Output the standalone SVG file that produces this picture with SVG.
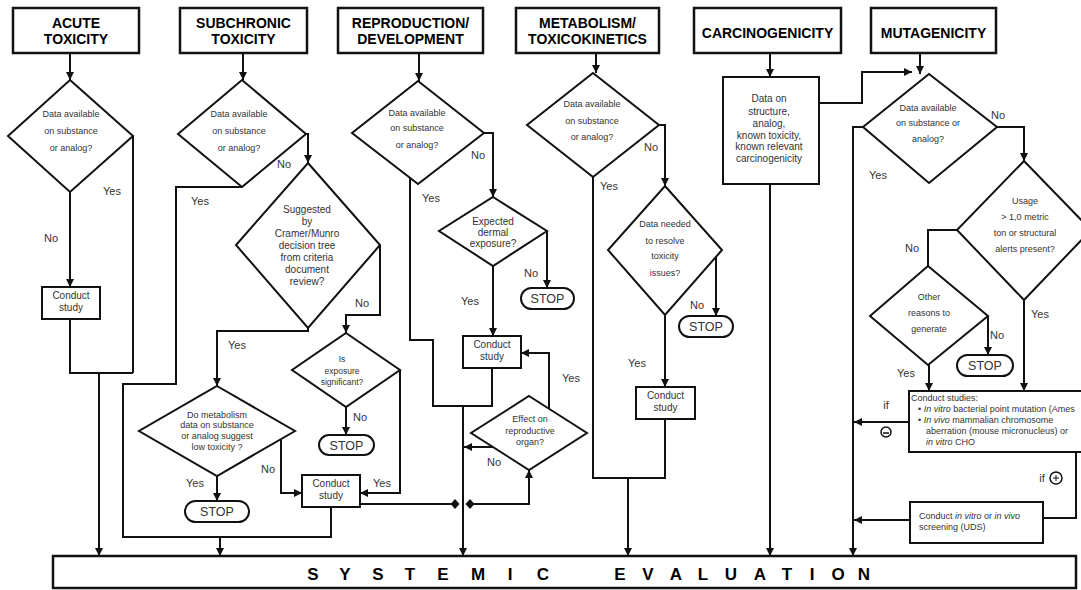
<svg xmlns="http://www.w3.org/2000/svg" width="1081" height="590" viewBox="0 0 1081 590">
  <defs>
    <marker id="arrow" viewBox="0 0 10 10" refX="10" refY="5" markerWidth="8" markerHeight="8" markerUnits="userSpaceOnUse" orient="auto">
      <path d="M0,0 L10,5 L0,10 z" fill="#111"/>
    </marker>
  </defs>
  <style>
    .hdr { fill: #fff; stroke: #111; stroke-width: 2.5; }
    .hdr-t { font-family: "Liberation Sans", Arial, sans-serif; font-weight: bold; font-size: 14px; fill: #000; text-anchor: middle; }
    .box { fill: #fff; stroke: #111; stroke-width: 2; }
    .dia { fill: #fff; stroke: #111; stroke-width: 2; }
    .stop { fill: #fff; stroke: #111; stroke-width: 2; }
    .t9 { font-family: "Liberation Sans", Arial, sans-serif; font-size: 9px; fill: #333; text-anchor: middle; }
    .t10 { font-family: "Liberation Sans", Arial, sans-serif; font-size: 10px; fill: #333; text-anchor: middle; }
    .tl { font-family: "Liberation Sans", Arial, sans-serif; font-size: 9px; fill: #333; }
    .stop-t { font-family: "Liberation Sans", Arial, sans-serif; font-size: 12.5px; fill: #333; text-anchor: middle; }
    .lbl { font-family: "Liberation Sans", Arial, sans-serif; font-size: 11px; fill: #333; text-anchor: middle; }
    .wire { fill: none; stroke: #111; stroke-width: 2; }
    .arr { marker-end: url(#arrow); }
    .sys-t { font-family: "Liberation Sans", Arial, sans-serif; font-weight: bold; font-size: 17px; fill: #000; text-anchor: middle; }
  </style>

  <rect width="1081" height="590" fill="#fff"/>

  <!-- connectors -->
  <g id="connectors">
    <!-- acute toxicity -->
    <path class="wire arr" d="M70,53 V80"/>
    <path class="wire arr" d="M70,192 V287"/>
    <path class="wire" d="M133,136 V373"/>
    <path class="wire" d="M70,319 V373 H133"/>
    <path class="wire arr" d="M99,373 V556"/>

    <!-- subchronic toxicity -->
    <path class="wire arr" d="M243,53 V80"/>
    <path class="wire arr" d="M306,134 H308 V163"/>
    <path class="wire" d="M242,187 H176 V384 H123 V537 H331 V507"/>
    <path class="wire arr" d="M220,537 V556"/>
    <path class="wire arr" d="M380,245 V315 H346 V333"/>
    <path class="wire arr" d="M308,328 V331 H217 V386"/>
    <path class="wire arr" d="M346,407 V435"/>
    <path class="wire arr" d="M400,370 V493 H360"/>
    <path class="wire arr" d="M217,476 V501"/>
    <path class="wire arr" d="M281,439 V493 H302"/>
    <path class="wire" d="M360,504 H453"/>
    <path class="wire arr" d="M472,504 H529 V470"/>
    <polygon points="455,499 459.5,504 455,509 450.5,504" fill="#111"/>
    <polygon points="470,499 474.5,504 470,509 465.5,504" fill="#111"/>

    <!-- reproduction / development -->
    <path class="wire arr" d="M419,53 V81"/>
    <path class="wire arr" d="M484,133 H493 V197"/>
    <path class="wire arr" d="M547,231 V288"/>
    <path class="wire arr" d="M493,266 V336"/>
    <path class="wire" d="M410,178 V340 H433 V406 H492 V368"/>
    <path class="wire arr" d="M463,406 V556"/>
    <path class="wire arr" d="M493,447 H464"/>
    <path class="wire arr" d="M549,409 V353 H521"/>

    <!-- metabolism / toxicokinetics -->
    <path class="wire arr" d="M596,53 V73"/>
    <path class="wire" d="M593,177 V478 H665 V419"/>
    <path class="wire arr" d="M628,478 V556"/>
    <path class="wire arr" d="M659,125 H665 V186"/>
    <path class="wire arr" d="M716,257 V316"/>
    <path class="wire arr" d="M665,315 V387"/>

    <!-- carcinogenicity -->
    <path class="wire arr" d="M770,53 V77"/>
    <path class="wire arr" d="M770,184 V556"/>
    <path class="wire arr" d="M819,103 H862 V72 H912"/>

    <!-- mutagenicity -->
    <path class="wire arr" d="M920,53 V74"/>
    <path class="wire arr" d="M863,127 H853 V556"/>
    <path class="wire arr" d="M997,127 H1024 V161"/>
    <path class="wire" d="M957,230 H928 V266"/>
    <path class="wire arr" d="M988,316 V355"/>
    <path class="wire arr" d="M929,365 V391"/>
    <path class="wire arr" d="M1024,300 V391"/>
    <path class="wire arr" d="M909,422 H854"/>
    <path class="wire" d="M1076,452 V518 H1043"/>
    <path class="wire arr" d="M910,520 H854"/>

    <!-- branch labels -->
    <text class="lbl" x="112" y="195">Yes</text>
    <text class="lbl" x="51" y="242">No</text>
    <text class="lbl" x="284" y="168">No</text>
    <text class="lbl" x="200" y="205">Yes</text>
    <text class="lbl" x="362" y="307">No</text>
    <text class="lbl" x="237" y="349">Yes</text>
    <text class="lbl" x="360" y="421">No</text>
    <text class="lbl" x="382" y="487">Yes</text>
    <text class="lbl" x="195" y="487">Yes</text>
    <text class="lbl" x="268" y="473">No</text>
    <text class="lbl" x="478" y="159">No</text>
    <text class="lbl" x="431" y="202">Yes</text>
    <text class="lbl" x="531" y="277">No</text>
    <text class="lbl" x="470" y="305">Yes</text>
    <text class="lbl" x="571" y="382">Yes</text>
    <text class="lbl" x="494" y="466">No</text>
    <text class="lbl" x="609" y="190">Yes</text>
    <text class="lbl" x="651" y="151">No</text>
    <text class="lbl" x="697" y="309">No</text>
    <text class="lbl" x="637" y="367">Yes</text>
    <text class="lbl" x="998" y="119">No</text>
    <text class="lbl" x="878" y="179">Yes</text>
    <text class="lbl" x="912" y="252">No</text>
    <text class="lbl" x="1040" y="318">Yes</text>
    <text class="lbl" x="997" y="339">No</text>
    <text class="lbl" x="906" y="377">Yes</text>

    <!-- result signs -->
    <text class="lbl" x="886" y="409">if</text>
    <circle cx="886" cy="432" r="5" fill="none" stroke="#111" stroke-width="1.5"/>
    <line x1="883" y1="433" x2="889" y2="433" stroke="#111" stroke-width="1.5"/>
    <text class="lbl" x="1042" y="482">if</text>
    <circle cx="1056" cy="478" r="6" fill="none" stroke="#111" stroke-width="1.5"/>
    <line x1="1053" y1="478" x2="1059" y2="478" stroke="#111" stroke-width="1"/>
    <line x1="1056" y1="475" x2="1056" y2="481" stroke="#111" stroke-width="1"/>
  </g>

  <!-- column headers -->
  <g id="hdr-acute">
    <rect class="hdr" x="13" y="8" width="126" height="45"/>
    <text class="hdr-t" x="76" y="28">ACUTE</text>
    <text class="hdr-t" x="76" y="44">TOXICITY</text>
  </g>
  <g id="hdr-subchronic">
    <rect class="hdr" x="180" y="8" width="127" height="45"/>
    <text class="hdr-t" x="243.5" y="28">SUBCHRONIC</text>
    <text class="hdr-t" x="243.5" y="44">TOXICITY</text>
  </g>
  <g id="hdr-repro">
    <rect class="hdr" x="338" y="8" width="145" height="45"/>
    <text class="hdr-t" x="410.5" y="28">REPRODUCTION/</text>
    <text class="hdr-t" x="410.5" y="44">DEVELOPMENT</text>
  </g>
  <g id="hdr-metab">
    <rect class="hdr" x="516" y="8" width="143" height="45"/>
    <text class="hdr-t" x="587.5" y="28">METABOLISM/</text>
    <text class="hdr-t" x="587.5" y="44">TOXICOKINETICS</text>
  </g>
  <g id="hdr-carc">
    <rect class="hdr" x="694" y="8" width="147" height="45"/>
    <text class="hdr-t" x="767.5" y="38">CARCINOGENICITY</text>
  </g>
  <g id="hdr-muta">
    <rect class="hdr" x="871" y="8" width="125" height="45"/>
    <text class="hdr-t" x="933.5" y="38">MUTAGENICITY</text>
  </g>

  <!-- acute toxicity -->
  <g id="acute-data">
    <polygon class="dia" points="70,80 133,136 70,192 8,136"/>
    <text class="t9" x="71" y="117">Data available</text>
    <text class="t9" x="71" y="134">on substance</text>
    <text class="t9" x="71" y="151">or analog?</text>
  </g>
  <g id="acute-study">
    <rect class="box" x="42" y="287" width="58" height="32"/>
    <text class="t10" x="71" y="299">Conduct</text>
    <text class="t10" x="71" y="311">study</text>
  </g>

  <!-- subchronic toxicity -->
  <g id="sub-data">
    <polygon class="dia" points="242,80 306,134 242,187 178,134"/>
    <text class="t9" x="239" y="117">Data available</text>
    <text class="t9" x="239" y="134">on substance</text>
    <text class="t9" x="239" y="151">or analog?</text>
  </g>
  <g id="sub-cramer">
    <polygon class="dia" points="308,163 380,245 308,328 236,245"/>
    <text class="t10" x="307" y="213">Suggested</text>
    <text class="t10" x="307" y="225">by</text>
    <text class="t10" x="307" y="237">Cramer/Munro</text>
    <text class="t10" x="307" y="249">decision tree</text>
    <text class="t10" x="307" y="261">from criteria</text>
    <text class="t10" x="307" y="273">document</text>
    <text class="t10" x="307" y="285">review?</text>
  </g>
  <g id="sub-exposure">
    <polygon class="dia" points="346,333 400,370 346,407 292,370"/>
    <text class="t9" x="342" y="362" style="font-size:8.5px">Is</text>
    <text class="t9" x="342" y="374" style="font-size:8.5px">exposure</text>
    <text class="t9" x="342" y="385" style="font-size:8.5px">significant?</text>
  </g>
  <g id="sub-exposure-stop">
    <rect class="stop" x="319" y="435" width="55" height="20" rx="10"/>
    <text class="stop-t" x="346.5" y="449.5">STOP</text>
  </g>
  <g id="sub-metab">
    <polygon class="dia" points="217,386 295,431 217,476 139,431"/>
    <text class="t9" x="217" y="418">Do metabolism</text>
    <text class="t9" x="217" y="428">data on substance</text>
    <text class="t9" x="217" y="439">or analog suggest</text>
    <text class="t9" x="217" y="450">low toxicity ?</text>
  </g>
  <g id="sub-metab-stop">
    <rect class="stop" x="185" y="501" width="64" height="21" rx="10.5"/>
    <text class="stop-t" x="217" y="516">STOP</text>
  </g>
  <g id="sub-study">
    <rect class="box" x="302" y="475" width="58" height="32"/>
    <text class="t10" x="331" y="487">Conduct</text>
    <text class="t10" x="331" y="499">study</text>
  </g>

  <!-- reproduction / development -->
  <g id="rep-data">
    <polygon class="dia" points="418,81 484,133 418,184 352,133"/>
    <text class="t9" x="417" y="116">Data available</text>
    <text class="t9" x="417" y="131">on substance</text>
    <text class="t9" x="417" y="148">or analog?</text>
  </g>
  <g id="rep-dermal">
    <polygon class="dia" points="493,197 547,231 493,266 439,231"/>
    <text class="t10" x="493" y="225">Expected</text>
    <text class="t10" x="493" y="236">dermal</text>
    <text class="t10" x="493" y="247">exposure?</text>
  </g>
  <g id="rep-dermal-stop">
    <rect class="stop" x="521" y="288" width="53" height="21" rx="10.5"/>
    <text class="stop-t" x="547.5" y="303">STOP</text>
  </g>
  <g id="rep-study">
    <rect class="box" x="463" y="336" width="58" height="32"/>
    <text class="t10" x="492" y="348">Conduct</text>
    <text class="t10" x="492" y="360">study</text>
  </g>
  <g id="rep-organ">
    <polygon class="dia" points="529,396 587,433 529,470 471,433"/>
    <text class="t9" x="530" y="422">Effect on</text>
    <text class="t9" x="530" y="434">reproductive</text>
    <text class="t9" x="530" y="445">organ?</text>
  </g>

  <!-- metabolism / toxicokinetics -->
  <g id="met-data">
    <polygon class="dia" points="593,73 659,125 593,177 527,125"/>
    <text class="t9" x="592" y="107">Data available</text>
    <text class="t9" x="592" y="124">on substance</text>
    <text class="t9" x="592" y="140">or analog?</text>
  </g>
  <g id="met-needed">
    <polygon class="dia" points="665,186 722,250 665,315 608,250"/>
    <text class="t9" x="665" y="227">Data needed</text>
    <text class="t9" x="665" y="244">to resolve</text>
    <text class="t9" x="665" y="259">toxicity</text>
    <text class="t9" x="665" y="276">issues?</text>
  </g>
  <g id="met-stop">
    <rect class="stop" x="679" y="316" width="54" height="21" rx="10.5"/>
    <text class="stop-t" x="706" y="331">STOP</text>
  </g>
  <g id="met-study">
    <rect class="box" x="636" y="387" width="59" height="32"/>
    <text class="t10" x="665.5" y="399">Conduct</text>
    <text class="t10" x="665.5" y="411">study</text>
  </g>

  <!-- carcinogenicity -->
  <g id="carc-data">
    <rect class="box" x="723" y="77" width="96" height="107"/>
    <text class="t10" x="769" y="102">Data on</text>
    <text class="t10" x="769" y="115">structure,</text>
    <text class="t10" x="769" y="127">analog,</text>
    <text class="t10" x="769" y="139">known toxicity,</text>
    <text class="t10" x="769" y="150">known relevant</text>
    <text class="t10" x="769" y="162">carcinogenicity</text>
  </g>

  <!-- mutagenicity -->
  <g id="mut-data">
    <polygon class="dia" points="929,74 997,127 929,183 863,127"/>
    <text class="t9" x="928" y="111">Data available</text>
    <text class="t9" x="928" y="126">on substance or</text>
    <text class="t9" x="928" y="142">analog?</text>
  </g>
  <g id="mut-usage">
    <polygon class="dia" points="1024,161 1091,230 1024,300 957,230"/>
    <text class="t9" x="1025" y="204">Usage</text>
    <text class="t9" x="1025" y="220">&gt; 1,0 metric</text>
    <text class="t9" x="1025" y="236">ton or structural</text>
    <text class="t9" x="1025" y="252">alerts present?</text>
  </g>
  <g id="mut-other">
    <polygon class="dia" points="928,266 988,316 928,365 870,316"/>
    <text class="t9" x="929" y="300">Other</text>
    <text class="t9" x="929" y="316">reasons to</text>
    <text class="t9" x="929" y="332">generate</text>
  </g>
  <g id="mut-stop">
    <rect class="stop" x="957" y="355" width="56" height="21" rx="10.5"/>
    <text class="stop-t" x="985" y="370">STOP</text>
  </g>
  <g id="mut-studies">
    <rect class="box" x="909" y="391" width="200" height="61"/>
    <text class="tl" x="911" y="401">Conduct studies:</text>
    <text class="tl" x="918" y="412">• <tspan font-style="italic">In vitro</tspan> bacterial point mutation (Ames</text>
    <text class="tl" x="918" y="423">• <tspan font-style="italic">In vivo</tspan> mammalian chromosome</text>
    <text class="tl" x="926" y="434">aberration (mouse micronucleus) or</text>
    <text class="tl" x="926" y="445"><tspan font-style="italic">in vitro</tspan> CHO</text>
  </g>
  <g id="mut-screening">
    <rect class="box" x="910" y="502" width="133" height="41"/>
    <text class="tl" x="919" y="519">Conduct <tspan font-style="italic">in vitro</tspan> or <tspan font-style="italic">in vivo</tspan></text>
    <text class="tl" x="919" y="530">screening (UDS)</text>
  </g>

  <!-- systemic evaluation bar -->
  <g id="systemic">
    <rect class="hdr" x="53" y="556" width="1023" height="32"/>
    <text class="sys-t" x="313 345 378 410 443 478 510 543" y="580">SYSTEMIC</text>
    <text class="sys-t" x="620 648 676 703 731 760 787 812 838 864" y="580">EVALUATION</text>
  </g>
</svg>
